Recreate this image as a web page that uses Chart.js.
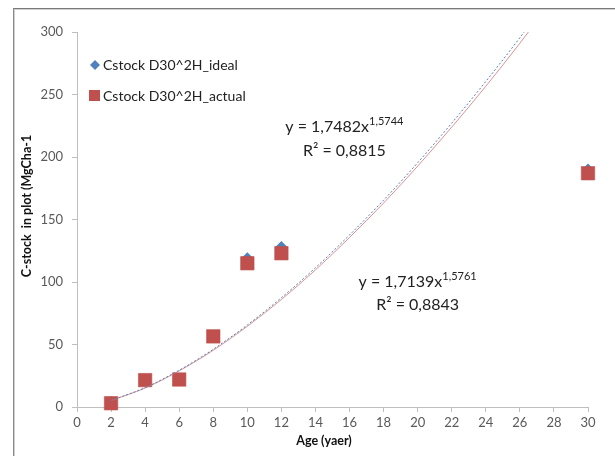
<!DOCTYPE html>
<html>
<head>
<meta charset="utf-8">
<script src="https://cdn.jsdelivr.net/npm/chart.js@4.4.1/dist/chart.umd.min.js"></script>
<style>
  body { margin: 0; background: #fff; }
  #wrap { position: relative; width: 615px; height: 456px; overflow: hidden; }
  #frame { position: absolute; left: 13px; top: 8px; width: 700px; height: 500px;
           border-left: 1px solid #8a8a8a; border-top: 1px solid #7a7a7a;
           box-shadow: inset 1px 1px 0 #d0d0d0; }
  #chart { position: absolute; left: 0; top: 0; }
</style>
</head>
<body>
<div id="wrap">
  <div id="frame"></div>
  <canvas id="chart" width="615" height="456"></canvas>
</div>
<script>
// data
const ages = [2, 4, 6, 8, 10, 12, 30];
const idealStock = [4, 22, 22.5, 57, 119, 128, 190];
const actualStock = [3, 21.5, 22, 56.5, 115, 123, 187];

// trend curves
const trendAges = [2, 4, 6, 8, 10, 12, 14, 16, 18, 20, 22, 24, 26, 27];
const idealTrend = [5.2, 15.5, 29.4, 46.2, 65.6, 87.4, 111.4, 137.6, 165.5, 195.4, 227.1, 260.4, 295.4, 313.5];
const actualTrend = [5.1, 15.2, 28.9, 45.4, 64.6, 86.0, 109.7, 135.6, 163.2, 192.7, 223.9, 256.6, 291.0, 309.0];

const seriesNames = ["Cstock D30^2H_ideal", "Cstock D30^2H_actual"];
const equations = [["y = 1,7482x", "1,5744", "R\u00b2 = 0,8815"], ["y = 1,7139x", "1,5761", "R\u00b2 = 0,8843"]];

const xTickValues = [0, 2, 4, 6, 8, 10, 12, 14, 16, 18, 20, 22, 24, 26, 28, 30];
const yTickValues = [0, 50, 100, 150, 200, 250, 300];
const xTitle = "Age (yaer)";
const yTitle = "C-stock  in plot (MgCha-1";

const blue = "#4F81BD";
const red = "#C0504D";
const FONT = "Lato";

function pairs(xs, ys) {
  return xs.map(function (x, i) { return { x: x, y: ys[i] }; });
}

// Draw legend, equations and axis titles
const textPlugin = {
  id: "texts",
  afterDatasetsDraw(chart) {
    const ctx = chart.ctx;
    const xs = chart.scales.x;
    const ys = chart.scales.y;
    ctx.save();

    // legend
    ctx.font = "14px " + FONT;
    ctx.textBaseline = "middle";
    ctx.textAlign = "left";
    ctx.fillStyle = blue;
    ctx.beginPath();
    ctx.moveTo(95, 60); ctx.lineTo(100, 65); ctx.lineTo(95, 70); ctx.lineTo(90, 65);
    ctx.closePath(); ctx.fill();
    ctx.fillStyle = red;
    ctx.fillRect(89, 90, 11, 11);
    ctx.fillStyle = "#222";
    ctx.fillText(seriesNames[0], 103, 65);
    ctx.fillText(seriesNames[1], 103, 96);

    // trend equations (placed in data coords)
    const spots = [[15.7, 224, 204.8], [20.0, 100, 81.6]];
    equations.forEach(function (eq, i) {
      const cx = xs.getPixelForValue(spots[i][0]);
      const y1 = ys.getPixelForValue(spots[i][1]);
      const y2 = ys.getPixelForValue(spots[i][2]);
      ctx.font = "16px " + FONT;
      const w1 = ctx.measureText(eq[0]).width;
      ctx.font = "11px " + FONT;
      const w2 = ctx.measureText(eq[1]).width;
      const left = cx - (w1 + w2) / 2;
      ctx.textAlign = "left";
      ctx.font = "16px " + FONT;
      ctx.fillText(eq[0], left, y1);
      ctx.font = "11px " + FONT;
      ctx.fillText(eq[1], left + w1, y1 - 6);
      ctx.font = "16px " + FONT;
      ctx.textAlign = "center";
      ctx.fillText(eq[2], cx, y2);
    });

    // axis titles
    ctx.fillStyle = "#111";
    ctx.font = "bold 12.5px " + FONT;
    ctx.textAlign = "center";
    ctx.fillText(xTitle, 324, 441);
    ctx.translate(27, 206);
    ctx.rotate(-Math.PI / 2);
    ctx.fillText(yTitle, 0, 0);
    ctx.restore();
  }
};

const axisLine = "#BFBFBF";

new Chart(document.getElementById("chart"), {
  type: "scatter",
  data: {
    datasets: [
      {
        label: "ideal trend",
        type: "line",
        data: pairs(trendAges, idealTrend),
        borderColor: blue,
        borderWidth: 1,
        borderDash: [2, 2],
        pointRadius: 0,
        cubicInterpolationMode: "monotone",
        fill: false,
        order: 1
      },
      {
        label: "actual trend",
        type: "line",
        data: pairs(trendAges, actualTrend),
        borderColor: "rgba(210,110,110,0.75)",
        borderWidth: 1,
        pointRadius: 0,
        cubicInterpolationMode: "monotone",
        fill: false,
        order: 2
      },
      {
        label: seriesNames[0],
        data: pairs(ages, idealStock),
        pointStyle: "rectRot",
        pointRadius: 6,
        backgroundColor: blue,
        borderColor: blue,
        borderWidth: 0,
        clip: false,
        order: 4
      },
      {
        label: seriesNames[1],
        data: pairs(ages, actualStock),
        pointStyle: "rect",
        pointRadius: 9.5,
        backgroundColor: red,
        borderColor: "rgba(192,80,77,0.6)",
        borderWidth: 1,
        clip: false,
        order: 3
      }
    ]
  },
  options: {
    responsive: false,
    animation: false,
    layout: { padding: { left: 0, right: 27, top: 32, bottom: 0 } },
    plugins: {
      legend: { display: false },
      tooltip: { enabled: false }
    },
    scales: {
      x: {
        type: "linear",
        min: 0,
        max: 30,
        afterBuildTicks: function (scale) {
          scale.ticks = xTickValues.map(function (v) { return { value: v }; });
        },
        afterFit: function (scale) { scale.height = 49; },
        grid: { drawOnChartArea: false, color: axisLine, tickLength: 5 },
        border: { color: axisLine },
        ticks: { color: "#595959", font: { family: FONT, size: 13 }, padding: 3, maxRotation: 0, autoSkip: false }
      },
      y: {
        type: "linear",
        min: 0,
        max: 300,
        afterBuildTicks: function (scale) {
          scale.ticks = yTickValues.map(function (v) { return { value: v }; });
        },
        afterFit: function (scale) { scale.width = 77; },
        grid: { drawOnChartArea: false, color: axisLine, tickLength: 5 },
        border: { color: axisLine },
        ticks: { color: "#595959", font: { family: FONT, size: 13 }, padding: 9 }
      }
    }
  },
  plugins: [textPlugin]
});
</script>
</body>
</html>
